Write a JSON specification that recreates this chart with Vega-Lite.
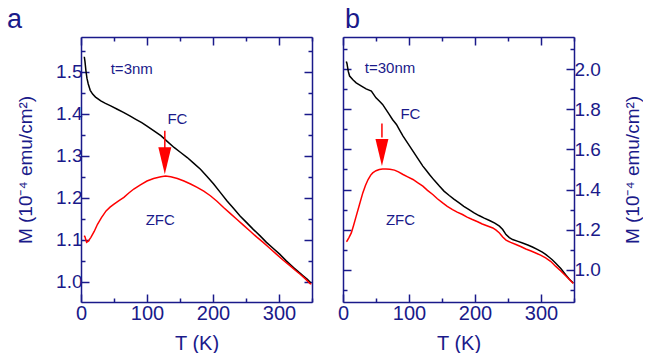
{
  "$schema": "https://vega.github.io/schema/vega-lite/v6.json",
  "padding": {"left": 7, "top": 5, "right": 0, "bottom": 0},
  "spacing": 22,
  "config": {
    "view": {"stroke": null},
    "font": "Liberation Sans",
    "axis": {
      "grid": false,
      "domainColor": "#1a1a8a",
      "domainWidth": 1.5,
      "tickColor": "#1a1a8a",
      "tickWidth": 1.5,
      "labelColor": "#1a1a8a",
      "titleColor": "#1a1a8a",
      "labelFont": "Liberation Sans",
      "titleFont": "Liberation Sans",
      "labelFontSize": 19,
      "titleFontSize": 19,
      "titleFontWeight": "normal",
      "labelFlush": false,
      "labelOverlap": false,
      "labelBound": false
    }
  },
  "datasets": {
    "a": [
      {"series":"FC","T":5,"M":1.536},{"series":"FC","T":6,"M":1.525},{"series":"FC","T":7.5,"M":1.502},{"series":"FC","T":9,"M":1.485},{"series":"FC","T":11,"M":1.471},{"series":"FC","T":14,"M":1.456},{"series":"FC","T":17.6,"M":1.447},{"series":"FC","T":22,"M":1.44},{"series":"FC","T":30,"M":1.431},{"series":"FC","T":37,"M":1.425},{"series":"FC","T":45,"M":1.419},{"series":"FC","T":55,"M":1.411},{"series":"FC","T":65,"M":1.403},{"series":"FC","T":74,"M":1.395},{"series":"FC","T":83,"M":1.387},{"series":"FC","T":92,"M":1.379},{"series":"FC","T":100,"M":1.371},{"series":"FC","T":110,"M":1.36},{"series":"FC","T":121,"M":1.348},{"series":"FC","T":131,"M":1.334},{"series":"FC","T":141,"M":1.32},{"series":"FC","T":151,"M":1.308},{"series":"FC","T":161,"M":1.296},{"series":"FC","T":171,"M":1.282},{"series":"FC","T":181,"M":1.268},{"series":"FC","T":191,"M":1.251},{"series":"FC","T":201,"M":1.233},{"series":"FC","T":211,"M":1.213},{"series":"FC","T":221,"M":1.193},{"series":"FC","T":231,"M":1.175},{"series":"FC","T":241,"M":1.157},{"series":"FC","T":251,"M":1.141},{"series":"FC","T":261,"M":1.125},{"series":"FC","T":271,"M":1.11},{"series":"FC","T":281,"M":1.094},{"series":"FC","T":291,"M":1.08},{"series":"FC","T":301,"M":1.066},{"series":"FC","T":311,"M":1.05},{"series":"FC","T":322,"M":1.034},{"series":"FC","T":330,"M":1.023},{"series":"FC","T":337,"M":1.014},{"series":"FC","T":343,"M":1.006},{"series":"FC","T":348,"M":0.998},
      {"series":"ZFC","T":5,"M":1.11},{"series":"ZFC","T":6,"M":1.107},{"series":"ZFC","T":8.5,"M":1.094},{"series":"ZFC","T":11,"M":1.097},{"series":"ZFC","T":15,"M":1.106},{"series":"ZFC","T":20,"M":1.12},{"series":"ZFC","T":25,"M":1.137},{"series":"ZFC","T":31,"M":1.153},{"series":"ZFC","T":38,"M":1.169},{"series":"ZFC","T":44,"M":1.178},{"series":"ZFC","T":50,"M":1.185},{"series":"ZFC","T":57,"M":1.193},{"series":"ZFC","T":65,"M":1.201},{"series":"ZFC","T":72,"M":1.211},{"series":"ZFC","T":80,"M":1.221},{"series":"ZFC","T":90,"M":1.231},{"series":"ZFC","T":100,"M":1.24},{"series":"ZFC","T":110,"M":1.246},{"series":"ZFC","T":121,"M":1.25},{"series":"ZFC","T":128,"M":1.252},{"series":"ZFC","T":136,"M":1.25},{"series":"ZFC","T":146,"M":1.246},{"series":"ZFC","T":156,"M":1.24},{"series":"ZFC","T":166,"M":1.233},{"series":"ZFC","T":176,"M":1.225},{"series":"ZFC","T":186,"M":1.216},{"series":"ZFC","T":196,"M":1.205},{"series":"ZFC","T":206,"M":1.192},{"series":"ZFC","T":216,"M":1.177},{"series":"ZFC","T":226,"M":1.163},{"series":"ZFC","T":236,"M":1.149},{"series":"ZFC","T":246,"M":1.135},{"series":"ZFC","T":256,"M":1.121},{"series":"ZFC","T":266,"M":1.107},{"series":"ZFC","T":276,"M":1.094},{"series":"ZFC","T":286,"M":1.08},{"series":"ZFC","T":296,"M":1.066},{"series":"ZFC","T":306,"M":1.052},{"series":"ZFC","T":317,"M":1.038},{"series":"ZFC","T":325,"M":1.027},{"series":"ZFC","T":332,"M":1.018},{"series":"ZFC","T":340,"M":1.007},{"series":"ZFC","T":347,"M":0.996},{"series":"ZFC","T":349,"M":0.995}
    ],
    "b": [
      {"series":"FC","T":5,"M":2.04},{"series":"FC","T":6,"M":2.03},{"series":"FC","T":8,"M":1.99},{"series":"FC","T":10,"M":1.967},{"series":"FC","T":15,"M":1.948},{"series":"FC","T":20,"M":1.933},{"series":"FC","T":28,"M":1.917},{"series":"FC","T":35,"M":1.903},{"series":"FC","T":43,"M":1.892},{"series":"FC","T":50,"M":1.858},{"series":"FC","T":55,"M":1.842},{"series":"FC","T":60,"M":1.825},{"series":"FC","T":65,"M":1.8},{"series":"FC","T":70,"M":1.775},{"series":"FC","T":75,"M":1.75},{"series":"FC","T":81,"M":1.725},{"series":"FC","T":86,"M":1.696},{"series":"FC","T":91,"M":1.667},{"series":"FC","T":96,"M":1.642},{"series":"FC","T":101,"M":1.617},{"series":"FC","T":106,"M":1.592},{"series":"FC","T":111,"M":1.567},{"series":"FC","T":116,"M":1.542},{"series":"FC","T":121,"M":1.517},{"series":"FC","T":126,"M":1.496},{"series":"FC","T":131,"M":1.475},{"series":"FC","T":138,"M":1.447},{"series":"FC","T":146,"M":1.417},{"series":"FC","T":153,"M":1.392},{"series":"FC","T":161,"M":1.37},{"series":"FC","T":168,"M":1.352},{"series":"FC","T":176,"M":1.333},{"series":"FC","T":183,"M":1.316},{"series":"FC","T":191,"M":1.3},{"series":"FC","T":198,"M":1.285},{"series":"FC","T":206,"M":1.27},{"series":"FC","T":214,"M":1.257},{"series":"FC","T":222,"M":1.245},{"series":"FC","T":230,"M":1.232},{"series":"FC","T":237,"M":1.217},{"series":"FC","T":242,"M":1.2},{"series":"FC","T":247,"M":1.175},{"series":"FC","T":252,"M":1.16},{"series":"FC","T":257,"M":1.15},{"series":"FC","T":264,"M":1.142},{"series":"FC","T":272,"M":1.133},{"series":"FC","T":280,"M":1.123},{"series":"FC","T":287,"M":1.113},{"series":"FC","T":295,"M":1.1},{"series":"FC","T":302,"M":1.087},{"series":"FC","T":307,"M":1.076},{"series":"FC","T":312,"M":1.063},{"series":"FC","T":317,"M":1.049},{"series":"FC","T":322,"M":1.033},{"series":"FC","T":330,"M":1.005},{"series":"FC","T":337,"M":0.975},{"series":"FC","T":343,"M":0.952},{"series":"FC","T":349,"M":0.933},
      {"series":"ZFC","T":5,"M":1.14},{"series":"ZFC","T":6,"M":1.142},{"series":"ZFC","T":9,"M":1.16},{"series":"ZFC","T":12.6,"M":1.183},{"series":"ZFC","T":16,"M":1.22},{"series":"ZFC","T":20,"M":1.267},{"series":"ZFC","T":25,"M":1.325},{"series":"ZFC","T":30,"M":1.383},{"series":"ZFC","T":34,"M":1.42},{"series":"ZFC","T":38,"M":1.45},{"series":"ZFC","T":42,"M":1.472},{"series":"ZFC","T":45,"M":1.483},{"series":"ZFC","T":50,"M":1.494},{"series":"ZFC","T":55,"M":1.5},{"series":"ZFC","T":60,"M":1.503},{"series":"ZFC","T":65,"M":1.503},{"series":"ZFC","T":71,"M":1.501},{"series":"ZFC","T":78,"M":1.497},{"series":"ZFC","T":84,"M":1.488},{"series":"ZFC","T":91,"M":1.475},{"series":"ZFC","T":98,"M":1.463},{"series":"ZFC","T":106,"M":1.45},{"series":"ZFC","T":113,"M":1.434},{"series":"ZFC","T":121,"M":1.417},{"series":"ZFC","T":128,"M":1.396},{"series":"ZFC","T":136,"M":1.375},{"series":"ZFC","T":143,"M":1.354},{"series":"ZFC","T":151,"M":1.333},{"series":"ZFC","T":158,"M":1.316},{"series":"ZFC","T":166,"M":1.3},{"series":"ZFC","T":173,"M":1.287},{"series":"ZFC","T":181,"M":1.275},{"series":"ZFC","T":188,"M":1.262},{"series":"ZFC","T":196,"M":1.25},{"series":"ZFC","T":204,"M":1.239},{"series":"ZFC","T":211,"M":1.228},{"series":"ZFC","T":219,"M":1.218},{"series":"ZFC","T":227,"M":1.208},{"series":"ZFC","T":232,"M":1.197},{"series":"ZFC","T":237,"M":1.183},{"series":"ZFC","T":242,"M":1.163},{"series":"ZFC","T":247,"M":1.147},{"series":"ZFC","T":254,"M":1.136},{"series":"ZFC","T":262,"M":1.125},{"series":"ZFC","T":270,"M":1.114},{"series":"ZFC","T":277,"M":1.103},{"series":"ZFC","T":285,"M":1.093},{"series":"ZFC","T":292,"M":1.083},{"series":"ZFC","T":300,"M":1.071},{"series":"ZFC","T":307,"M":1.058},{"series":"ZFC","T":315,"M":1.04},{"series":"ZFC","T":322,"M":1.017},{"series":"ZFC","T":330,"M":0.993},{"series":"ZFC","T":337,"M":0.97},{"series":"ZFC","T":343,"M":0.95},{"series":"ZFC","T":349,"M":0.93}
    ],
    "arrA": [{"T":127,"M":1.36,"M2":1.29,"tip":1.256}],
    "arrB": [{"T":59,"M":1.73,"M2":1.66,"tip":1.517}],
    "labA": [{"T":45,"M":1.506,"text":"t=3nm"},{"T":131,"M":1.387,"text":"FC"},{"T":98,"M":1.147,"text":"ZFC"}],
    "labB": [{"T":33,"M":2.008,"text":"t=30nm"},{"T":87,"M":1.778,"text":"FC"},{"T":65,"M":1.25,"text":"ZFC"}],
    "panA": [{"T":-112,"M":1.604,"text":"a"}],
    "panB": [{"T":3,"M":2.207,"text":"b"}]
  },
  "hconcat": [
    {
      "width": 231,
      "height": 265,
      "layer": [
        {
          "data": {"name": "a"},
          "mark": {"type": "line", "strokeWidth": 1.5},
          "encoding": {
            "x": {"field": "T", "type": "quantitative", "scale": {"domain": [0, 350], "nice": false, "zero": false},
              "axis": {"orient": "bottom", "title": "T (K)", "values": [0,100,200,300], "tickSize": -8, "labelPadding": 9, "titlePadding": 10, "labelFontSize": 20, "titleFontSize": 20}},
            "y": {"field": "M", "type": "quantitative", "scale": {"domain": [0.952, 1.583], "nice": false, "zero": false},
              "axis": {"orient": "left", "title": "M (10⁻⁴ emu/cm²)", "values": [1.0,1.1,1.2,1.3,1.4,1.5], "format": ".1f", "tickSize": -8, "labelPadding": 7, "titlePadding": 20}},
            "color": {"field": "series", "type": "nominal", "scale": {"domain": ["FC", "ZFC"], "range": ["#000000", "#ff0000"]}, "legend": null}
          }
        },
        {
          "data": {"name": "arrA"},
          "mark": {"type": "rule", "color": "#ff0000", "strokeWidth": 1.5},
          "encoding": {
            "x": {"field": "T", "type": "quantitative",
              "axis": {"orient": "top", "title": null, "values": [0,100,200,300], "labels": false, "tickSize": -8}},
            "y": {"field": "M", "type": "quantitative",
              "axis": {"orient": "right", "title": null, "values": [1.0,1.1,1.2,1.3,1.4,1.5], "labels": false, "tickSize": -8}},
            "y2": {"field": "M2"}
          }
        },
        {
          "data": {"name": "arrA"},
          "mark": {"type": "point", "shape": "M-0.24,-1L0.24,-1L0,0Z", "filled": true, "color": "#ff0000", "opacity": 1, "size": 2916},
          "encoding": {
            "x": {"field": "T", "type": "quantitative",
              "axis": {"orient": "bottom", "title": null, "values": [50,150,250,350], "labels": false, "domain": false, "tickSize": -4}},
            "y": {"field": "tip", "type": "quantitative",
              "axis": {"orient": "left", "title": null, "values": [1.05,1.15,1.25,1.35,1.45,1.55], "labels": false, "domain": false, "tickSize": -4}}
          }
        },
        {
          "data": {"name": "labA"},
          "mark": {"type": "text", "align": "left", "baseline": "middle", "fontSize": 15, "color": "#1a1a8a", "font": "Liberation Sans"},
          "encoding": {
            "x": {"field": "T", "type": "quantitative",
              "axis": {"orient": "top", "title": null, "values": [50,150,250,350], "labels": false, "domain": false, "tickSize": -4}},
            "y": {"field": "M", "type": "quantitative",
              "axis": {"orient": "right", "title": null, "values": [1.05,1.15,1.25,1.35,1.45,1.55], "labels": false, "domain": false, "tickSize": -4}},
            "text": {"field": "text"}
          }
        },
        {
          "data": {"name": "panA"},
          "mark": {"type": "text", "align": "left", "baseline": "alphabetic", "fontSize": 27, "color": "#1a1a8a", "font": "Liberation Sans"},
          "encoding": {
            "x": {"field": "T", "type": "quantitative", "axis": null},
            "y": {"field": "M", "type": "quantitative", "axis": null},
            "text": {"field": "text"}
          }
        }
      ],
      "resolve": {"axis": {"x": "independent", "y": "independent"}}
    },
    {
      "width": 231,
      "height": 265,
      "layer": [
        {
          "data": {"name": "b"},
          "mark": {"type": "line", "strokeWidth": 1.5},
          "encoding": {
            "x": {"field": "T", "type": "quantitative", "scale": {"domain": [0, 350], "nice": false, "zero": false},
              "axis": {"orient": "bottom", "title": "T (K)", "values": [0,100,200,300], "tickSize": -8, "labelPadding": 9, "titlePadding": 10, "labelFontSize": 20, "titleFontSize": 20}},
            "y": {"field": "M", "type": "quantitative", "scale": {"domain": [0.838, 2.162], "nice": false, "zero": false},
              "axis": {"orient": "right", "title": "M (10⁻⁴ emu/cm²)", "titleAngle": 270, "titleBaseline": "top", "values": [1.0,1.2,1.4,1.6,1.8,2.0], "format": ".1f", "tickSize": -8, "labelPadding": 8, "titlePadding": 23}},
            "color": {"field": "series", "type": "nominal", "scale": {"domain": ["FC", "ZFC"], "range": ["#000000", "#ff0000"]}, "legend": null}
          }
        },
        {
          "data": {"name": "arrB"},
          "mark": {"type": "rule", "color": "#ff0000", "strokeWidth": 1.5},
          "encoding": {
            "x": {"field": "T", "type": "quantitative",
              "axis": {"orient": "top", "title": null, "values": [0,100,200,300], "labels": false, "tickSize": -8}},
            "y": {"field": "M", "type": "quantitative",
              "axis": {"orient": "left", "title": null, "values": [1.0,1.2,1.4,1.6,1.8,2.0], "labels": false, "tickSize": -8}},
            "y2": {"field": "M2"}
          }
        },
        {
          "data": {"name": "arrB"},
          "mark": {"type": "point", "shape": "M-0.24,-1L0.24,-1L0,0Z", "filled": true, "color": "#ff0000", "opacity": 1, "size": 2916},
          "encoding": {
            "x": {"field": "T", "type": "quantitative",
              "axis": {"orient": "bottom", "title": null, "values": [50,150,250,350], "labels": false, "domain": false, "tickSize": -4}},
            "y": {"field": "tip", "type": "quantitative",
              "axis": {"orient": "right", "title": null, "values": [0.9,1.1,1.3,1.5,1.7,1.9,2.1], "labels": false, "domain": false, "tickSize": -4}}
          }
        },
        {
          "data": {"name": "labB"},
          "mark": {"type": "text", "align": "left", "baseline": "middle", "fontSize": 15, "color": "#1a1a8a", "font": "Liberation Sans"},
          "encoding": {
            "x": {"field": "T", "type": "quantitative",
              "axis": {"orient": "top", "title": null, "values": [50,150,250,350], "labels": false, "domain": false, "tickSize": -4}},
            "y": {"field": "M", "type": "quantitative",
              "axis": {"orient": "left", "title": null, "values": [0.9,1.1,1.3,1.5,1.7,1.9,2.1], "labels": false, "domain": false, "tickSize": -4}},
            "text": {"field": "text"}
          }
        },
        {
          "data": {"name": "panB"},
          "mark": {"type": "text", "align": "left", "baseline": "alphabetic", "fontSize": 27, "color": "#1a1a8a", "font": "Liberation Sans"},
          "encoding": {
            "x": {"field": "T", "type": "quantitative", "axis": null},
            "y": {"field": "M", "type": "quantitative", "axis": null},
            "text": {"field": "text"}
          }
        }
      ],
      "resolve": {"axis": {"x": "independent", "y": "independent"}}
    }
  ]
}
